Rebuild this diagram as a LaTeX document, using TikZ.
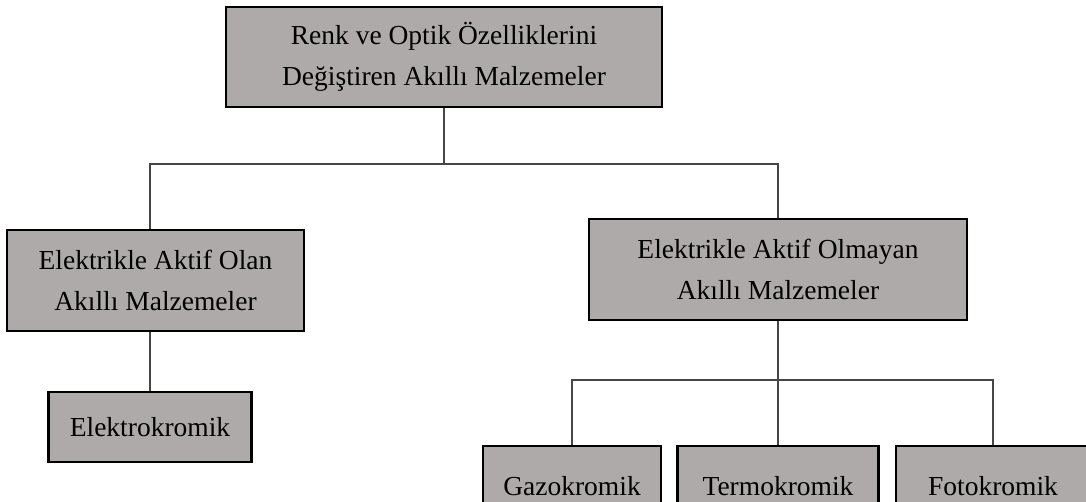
\documentclass[tikz,border=0pt]{standalone}
\usepackage{fontspec}
\setmainfont{Liberation Serif}
\definecolor{boxgray}{RGB}{174,170,170}
\definecolor{linegray}{RGB}{70,70,70}
\begin{document}
\begin{tikzpicture}[x=1pt,y=-1pt,
  box/.style={draw=black,line width=2.6pt,fill=boxgray,rectangle,align=center,
    inner sep=0pt,font=\fontsize{27.5}{41}\selectfont},
  conn/.style={draw=linegray,line width=1.4pt}]
\useasboundingbox (0,0) rectangle (1086,501);
\clip (0,0) rectangle (1086,501);
\node[box,minimum width=436pt,minimum height=100pt] (top) at (444,57)
  {Renk ve Optik Özelliklerini\\Değiştiren Akıllı Malzemeler};
\node[box,minimum width=297pt,minimum height=101pt] (left) at (155.5,280.5)
  {Elektrikle Aktif Olan\\Akıllı Malzemeler};
\node[box,minimum width=378pt,minimum height=101pt] (right) at (778,269.5)
  {Elektrikle Aktif Olmayan\\Akıllı Malzemeler};
\node[box,minimum width=203pt,minimum height=70pt] (elektro) at (150,427)
  {Elektrokromik};
\node[box,minimum width=178pt,minimum height=80pt] (gazo) at (572,486)
  {Gazokromik};
\node[box,minimum width=201pt,minimum height=80pt] (termo) at (778,486)
  {Termokromik};
\node[box,minimum width=194pt,minimum height=80pt] (foto) at (993,486)
  {Fotokromik};
\coordinate (j1) at (444,164);
\coordinate (j2) at (778,380);
\draw[conn] (top.south) -- (j1);
\draw[conn] (elektro.north |- left.north) |- (j1) -| (right.north);
\draw[conn] (elektro.north |- left.south) -- (elektro.north);
\draw[conn] (right.south) -- (j2);
\draw[conn] (gazo.north) |- (j2) -| (foto.north);
\draw[conn] (j2) -- (termo.north);
\end{tikzpicture}
\end{document}
